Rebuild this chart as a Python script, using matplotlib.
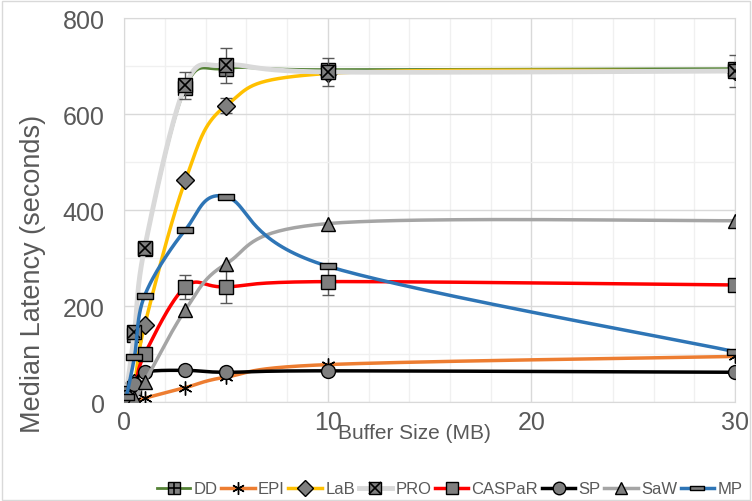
import matplotlib
matplotlib.use("Agg")
import matplotlib.pyplot as plt
import numpy as np
from matplotlib.lines import Line2D
from matplotlib.legend_handler import HandlerTuple
from matplotlib.path import Path

plt.rcParams['font.family'] = ['Liberation Sans', 'DejaVu Sans']

# buffer sizes (MB)
buf = [0.1, 0.5, 1, 3, 5, 10, 30]

# median latency (seconds)
dd = [15, 140, 320, 655, 695, 693, 695]
epi = [0, 2, 8, 30, 52, 78, 95]
lab = [5, 40, 160, 462, 618, 685, 690]
pro = [18, 145, 322, 660, 702, 688, 690]
caspar = [5, 30, 100, 240, 240, 251, 244]
sp = [10, 37, 62, 66, 62, 65, 62]
saw = [2, 8, 42, 192, 288, 372, 378]
mp = [10, 94, 222, 359, 428, 283, 105]

# error bars
pro_err = [0, 0, 0, 28, 37, 30, 33]
caspar_err = [0, 0, 0, 25, 33, 28, 8]
lab_err = [0, 0, 0, 5, 16, 0, 0]


def smooth(x, y, sx=20.4, sy=0.48, n=40):
    # excel-like smoothed line (catmull-rom bezier in screen space)
    p = np.column_stack([np.array(x, float) * sx, np.array(y, float) * sy])
    out = []
    for i in range(len(p) - 1):
        p0 = p[max(i - 1, 0)]
        p1 = p[i]
        p2 = p[i + 1]
        p3 = p[min(i + 2, len(p) - 1)]
        c1 = p1 + (p2 - p0) / 6
        c2 = p2 - (p3 - p1) / 6
        t = np.linspace(0, 1, n)[:, None]
        seg = ((1 - t) ** 3) * p1 + 3 * ((1 - t) ** 2) * t * c1 + 3 * (1 - t) * t ** 2 * c2 + t ** 3 * p2
        out.append(seg if i == 0 else seg[1:])
    out = np.vstack(out)
    return out[:, 0] / sx, out[:, 1] / sy


dash = Path([(-1, -0.35), (1, -0.35), (1, 0.35), (-1, 0.35), (-1, -0.35)],
            [Path.MOVETO, Path.LINETO, Path.LINETO, Path.LINETO, Path.CLOSEPOLY])
star6 = (6, 2, 0)

fig = plt.figure(figsize=(7.52, 5.02), dpi=100)
ax = fig.add_axes([0.1653, 0.1972, 0.8121, 0.7644])

series = [
    ("DD", dd, "#548235", 2.0, 's', None),
    ("EPI", epi, "#ed7d31", 2.5, star6, None),
    ("LaB", lab, "#ffc000", 2.5, 'D', lab_err),
    ("PRO", pro, "#d9d9d9", 3.5, 's', pro_err),
    ("CASPaR", caspar, "#ff0000", 2.5, 's', caspar_err),
    ("SP", sp, "#000000", 2.5, 'o', None),
    ("SaW", saw, "#a5a5a5", 2.5, '^', None),
    ("MP", mp, "#2e75b6", 2.5, dash, None),
]

handles = []
z = 3
for name, vals, col, lw, mk, err in series:
    sx_, sy_ = smooth(buf, vals)
    ax.plot(sx_, sy_, color=col, lw=lw, zorder=z, solid_capstyle='round')
    if err is not None:
        ax.errorbar(buf, vals, yerr=err, fmt='none', ecolor='#595959', elinewidth=1,
                    capsize=4, capthick=1, zorder=z + 0.1)
    if mk == star6:
        ax.plot(buf, vals, ls='none', marker=mk, ms=10, color='black', mew=1, zorder=z + 0.2)
        h = Line2D([], [], color=col, lw=lw, marker=mk, ms=9, mec='black', mfc='black')
    else:
        mks = {'D': 9, 's': 10, 'o': 10, '^': 10}.get(mk, 11)
        ax.plot(buf, vals, ls='none', marker=mk, ms=mks, mfc='#7f7f7f', mec='black', mew=1,
                zorder=z + 0.2)
        h = Line2D([], [], color=col, lw=lw, marker=mk, ms=mks - 1, mfc='#7f7f7f', mec='black', mew=1)
    if name == "DD":
        ax.plot(buf, vals, ls='none', marker='+', ms=10, color='black', mew=1.2, zorder=z + 0.3)
        h = (h, Line2D([], [], ls='none', marker='+', ms=9, color='black', mew=1.2))
    if name == "PRO":
        ax.plot(buf, vals, ls='none', marker='x', ms=9, color='black', mew=1.2, zorder=z + 0.3)
        h = (h, Line2D([], [], ls='none', marker='x', ms=8, color='black', mew=1.2))
    handles.append(h)
    z += 1

ax.set_xlim(0, 30)
ax.set_ylim(0, 800)
ax.set_xticks([0, 10, 20, 30])
ax.set_yticks([0, 200, 400, 600, 800])
ax.set_xticks(np.arange(0, 31, 2), minor=True)
ax.set_yticks(np.arange(0, 801, 100), minor=True)
ax.grid(which='minor', color='#f0f0f0', lw=1, zorder=0)
ax.grid(which='major', color='#d9d9d9', lw=1, zorder=0)
ax.set_axisbelow(True)
for s in ax.spines.values():
    s.set_color('#d9d9d9')
ax.tick_params(which='both', length=0, colors='#595959', labelsize=18)
ax.tick_params(axis='x', pad=6)
ax.tick_params(axis='y', pad=14)

fig.text(0.551, 0.136, "Buffer Size (MB)", ha='center', va='center', fontsize=15, color='#595959')
fig.text(0.044, 0.455, "Median Latency (seconds)", ha='center', va='center', rotation=90,
         fontsize=19.5, color='#595959')

fig.legend(handles, [s[0] for s in series], loc='center', bbox_to_anchor=(0.598, 0.024), ncol=8,
           frameon=False, fontsize=12, handlelength=2.0, handletextpad=0.2, columnspacing=0.22,
           handler_map={tuple: HandlerTuple(ndivide=1)}, labelcolor='#595959')

fig.patches.append(plt.Rectangle((0.002, 0.002), 0.996, 0.994, transform=fig.transFigure,
                                 fill=False, ec='#d9d9d9', lw=1))

fig.savefig("out.png", dpi=100)
